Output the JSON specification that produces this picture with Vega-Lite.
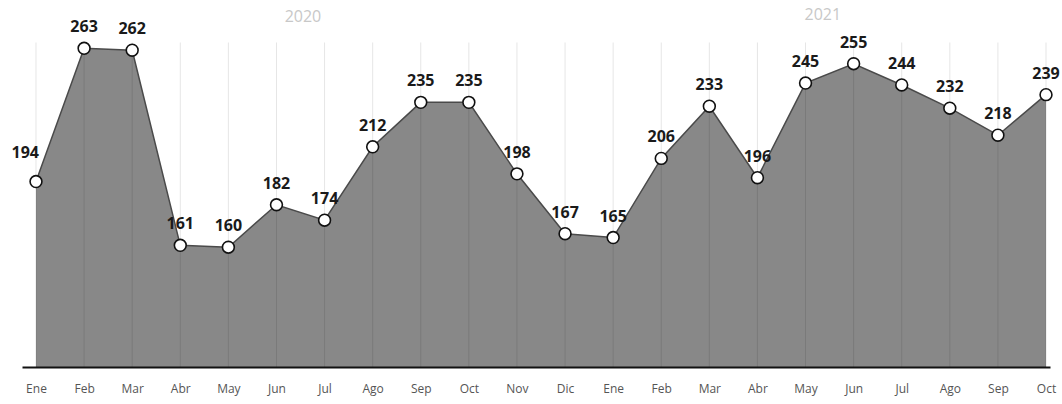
{
  "$schema": "https://vega.github.io/schema/vega-lite/v6.json",
  "width": 1028,
  "height": 367,
  "autosize": {"type": "none"},
  "padding": {"left": 22, "top": 0, "right": 12, "bottom": 37},
  "background": "white",
  "config": {"view": {"stroke": null}, "font": "Open Sans"},
  "datasets": {
    "anios": [
      {"anio": "2020", "pos": 5.55, "alto": 279},
      {"anio": "2021", "pos": 16.36, "alto": 280}
    ]
  },
  "data": {
    "values": [
      {"n": 0, "mes": "Ene", "anio": 2020, "valor": 194},
      {"n": 1, "mes": "Feb", "anio": 2020, "valor": 263},
      {"n": 2, "mes": "Mar", "anio": 2020, "valor": 262},
      {"n": 3, "mes": "Abr", "anio": 2020, "valor": 161},
      {"n": 4, "mes": "May", "anio": 2020, "valor": 160},
      {"n": 5, "mes": "Jun", "anio": 2020, "valor": 182},
      {"n": 6, "mes": "Jul", "anio": 2020, "valor": 174},
      {"n": 7, "mes": "Ago", "anio": 2020, "valor": 212},
      {"n": 8, "mes": "Sep", "anio": 2020, "valor": 235},
      {"n": 9, "mes": "Oct", "anio": 2020, "valor": 235},
      {"n": 10, "mes": "Nov", "anio": 2020, "valor": 198},
      {"n": 11, "mes": "Dic", "anio": 2020, "valor": 167},
      {"n": 12, "mes": "Ene", "anio": 2021, "valor": 165},
      {"n": 13, "mes": "Feb", "anio": 2021, "valor": 206},
      {"n": 14, "mes": "Mar", "anio": 2021, "valor": 233},
      {"n": 15, "mes": "Abr", "anio": 2021, "valor": 196},
      {"n": 16, "mes": "May", "anio": 2021, "valor": 245},
      {"n": 17, "mes": "Jun", "anio": 2021, "valor": 255},
      {"n": 18, "mes": "Jul", "anio": 2021, "valor": 244},
      {"n": 19, "mes": "Ago", "anio": 2021, "valor": 232},
      {"n": 20, "mes": "Sep", "anio": 2021, "valor": 218},
      {"n": 21, "mes": "Oct", "anio": 2021, "valor": 239}
    ]
  },
  "encoding": {
    "x": {
      "field": "n",
      "type": "quantitative",
      "scale": {"domain": [-0.291, 21.083], "nice": false, "zero": false},
      "axis": {
        "title": null,
        "values": [0,1,2,3,4,5,6,7,8,9,10,11,12,13,14,15,16,17,18,19,20,21],
        "labelExpr": "['Ene','Feb','Mar','Abr','May','Jun','Jul','Ago','Sep','Oct','Nov','Dic'][datum.value % 12]",
        "grid": false,
        "ticks": false,
        "domain": true,
        "domainColor": "#111111",
        "domainWidth": 2,
        "labelFontSize": 12,
        "labelColor": "#555555",
        "labelPadding": 16,
        "labelFlush": false,
        "zindex": 1
      }
    }
  },
  "layer": [
    {
      "mark": {"type": "area", "color": "#888888", "opacity": 1},
      "encoding": {
        "y": {"field": "valor", "type": "quantitative", "scale": {"domain": [98, 288], "nice": false, "zero": false}, "axis": null},
        "y2": {"datum": 98}
      }
    },
    {
      "mark": {"type": "rule", "color": "#000000", "opacity": 0.1, "strokeWidth": 1},
      "encoding": {
        "y": {"datum": 98},
        "y2": {"datum": 266}
      }
    },
    {
      "mark": {"type": "line", "color": "#4a4a4a", "strokeWidth": 1.5},
      "encoding": {
        "y": {"field": "valor", "type": "quantitative"}
      }
    },
    {
      "mark": {"type": "point", "filled": true, "fill": "white", "stroke": "#111111", "strokeWidth": 1.6, "size": 140, "opacity": 1, "shape": "circle"},
      "encoding": {
        "y": {"field": "valor", "type": "quantitative"}
      }
    },
    {
      "transform": [{"filter": "datum.n != 0"}],
      "mark": {"type": "text", "fontSize": 16, "fontWeight": "bold", "color": "#1a1a1a", "dy": -21, "baseline": "middle"},
      "encoding": {
        "y": {"field": "valor", "type": "quantitative"},
        "text": {"field": "valor", "type": "quantitative"}
      }
    },
    {
      "transform": [{"filter": "datum.n == 0"}],
      "mark": {"type": "text", "fontSize": 16, "fontWeight": "bold", "color": "#1a1a1a", "dy": -29, "dx": 3, "align": "right", "baseline": "middle"},
      "encoding": {
        "y": {"field": "valor", "type": "quantitative"},
        "text": {"field": "valor", "type": "quantitative"}
      }
    },
    {
      "data": {"name": "anios"},
      "mark": {"type": "text", "fontSize": 16, "color": "#c8c8c8", "baseline": "middle"},
      "encoding": {
        "x": {"field": "pos", "type": "quantitative"},
        "y": {"field": "alto", "type": "quantitative"},
        "text": {"field": "anio", "type": "nominal"}
      }
    }
  ]
}
